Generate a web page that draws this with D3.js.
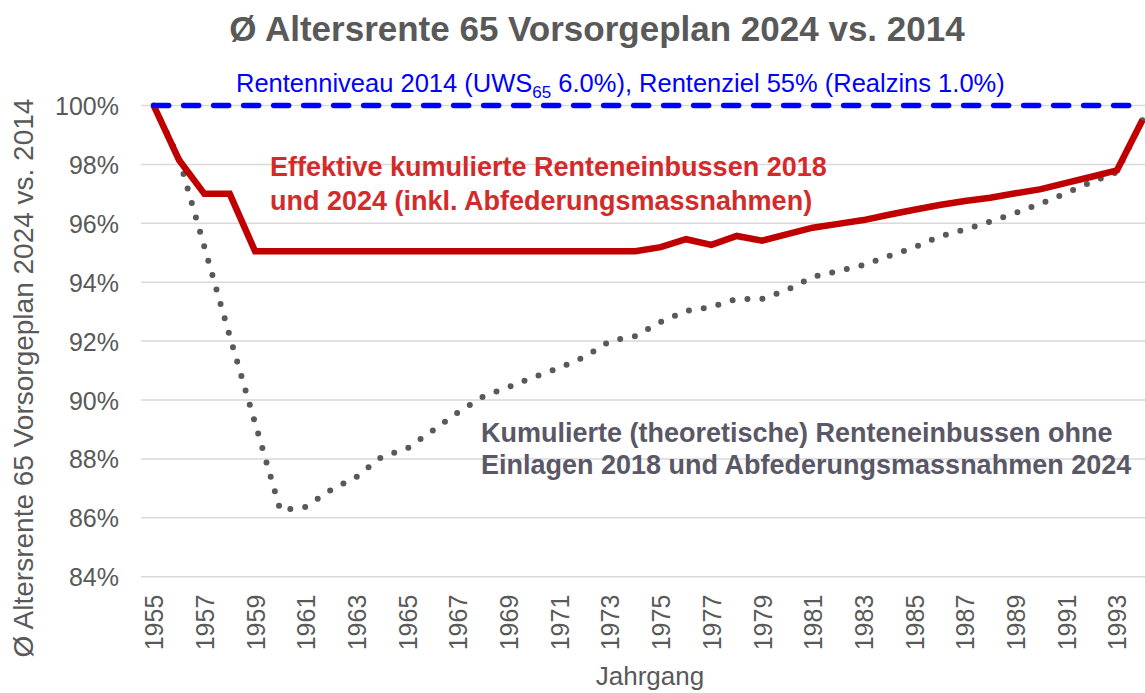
<!DOCTYPE html>
<html>
<head>
<meta charset="utf-8">
<script src="https://cdn.jsdelivr.net/npm/d3@7"></script>
<style>
  html, body { margin: 0; padding: 0; background: #fff; }
  #chart { width: 1145px; height: 693px; overflow: hidden; }
  text { font-family: "Liberation Sans", Arial, sans-serif; }
</style>
</head>
<body>
<div id="chart"></div>
<script>
const years = d3.range(1955, 1995);
const yearTicks = years.filter((y) => (y - 1955) % 2 === 0);
const percentTicks = [84, 86, 88, 90, 92, 94, 96, 98, 100];

// Rentenniveau 2014 (Referenz)
const referenzLevel = years.map(() => 100);

// Effektive kumulierte Renteneinbussen 2018 und 2024
const effektiv = [
  100, 98.15, 97.0, 97.0, 95.05, 95.05, 95.05, 95.05, 95.05, 95.05,
  95.05, 95.05, 95.05, 95.05, 95.05, 95.05, 95.05, 95.05, 95.05, 95.05,
  95.19, 95.46, 95.27, 95.57, 95.41, 95.63, 95.85, 95.98, 96.11, 96.29,
  96.46, 96.62, 96.76, 96.87, 97.02, 97.16, 97.37, 97.58, 97.8, 99.5,
];

// Kumulierte (theoretische) Renteneinbussen
const theoretisch = [
  100, 98.2, 95.2, 92.17, 89.22, 86.25, 86.37, 86.95, 87.39, 88.07,
  88.35, 88.96, 89.58, 90.12, 90.44, 90.78, 91.09, 91.46, 92.0, 92.17,
  92.65, 93.02, 93.16, 93.43, 93.43, 93.74, 94.18, 94.38, 94.58, 94.89,
  95.18, 95.55, 95.79, 96.06, 96.35, 96.67, 97.03, 97.4, 97.74, 99.5,
];

function createChart(containerId) {
  const width = 1145;
  const height = 693;
  const plot = { left: 141, right: 1155, top: 105.5, bottom: 576.7 };

  const svg = d3
    .select(`#${containerId}`)
    .append("svg")
    .attr("width", width)
    .attr("height", height);

  const x = d3
    .scalePoint()
    .domain(years)
    .range([plot.left, plot.right])
    .padding(0.5);

  const y = d3.scaleLinear().domain([84, 100]).range([plot.bottom, plot.top]);

  // Gitterlinien
  svg
    .append("g")
    .selectAll("line")
    .data(percentTicks)
    .enter()
    .append("line")
    .attr("x1", plot.left)
    .attr("x2", plot.right)
    .attr("y1", (d) => y(d))
    .attr("y2", (d) => y(d))
    .attr("stroke", "#d9d9d9")
    .attr("stroke-width", 1.5);

  // Y-Achse
  const yAxis = svg
    .append("g")
    .attr("transform", `translate(${plot.left - 22},0)`)
    .call(
      d3
        .axisLeft(y)
        .tickValues(percentTicks)
        .tickSize(0)
        .tickFormat((d) => `${d}%`)
    );
  yAxis.select(".domain").remove();
  yAxis
    .selectAll("text")
    .attr("fill", "#595959")
    .style("font-size", "25px")
    .attr("dy", "0.36em")
    .attr("x", 0);

  // X-Achse
  const xAxis = svg
    .append("g")
    .attr("transform", `translate(0,${plot.bottom})`)
    .call(d3.axisBottom(x).tickValues(yearTicks).tickSize(0));
  xAxis.select(".domain").remove();
  xAxis
    .selectAll("text")
    .attr("fill", "#595959")
    .style("font-size", "25px")
    .style("text-anchor", "end")
    .attr("transform", "rotate(-90)")
    .attr("x", -18)
    .attr("y", 0)
    .attr("dy", "0.36em");

  const line = d3
    .line()
    .x((d, i) => x(years[i]))
    .y((d) => y(d));

  // theoretische Renteneinbussen (gepunktet)
  svg
    .append("path")
    .datum(theoretisch)
    .attr("fill", "none")
    .attr("stroke", "#595959")
    .attr("stroke-width", 6)
    .attr("stroke-linecap", "round")
    .attr("stroke-dasharray", "0 15")
    .attr("d", line);

  // effektive Renteneinbussen
  svg
    .append("path")
    .datum(effektiv)
    .attr("fill", "none")
    .attr("stroke", "#c00000")
    .attr("stroke-width", 6.5)
    .attr("stroke-linejoin", "miter")
    .attr("d", line);

  // Rentenniveau 2014
  svg
    .append("path")
    .datum(referenzLevel)
    .attr("fill", "none")
    .attr("stroke", "#0000ff")
    .attr("stroke-width", 5.5)
    .attr("stroke-linecap", "round")
    .attr("stroke-dasharray", "15 15")
    .attr("d", line);

  // Titel
  svg
    .append("text")
    .attr("x", 597)
    .attr("y", 41)
    .attr("text-anchor", "middle")
    .attr("fill", "#595959")
    .style("font-size", "35px")
    .style("font-weight", "bold")
    .text("Ø Altersrente 65 Vorsorgeplan 2024 vs. 2014");

  // Blaue Beschriftung
  const blue = svg
    .append("text")
    .attr("x", 236)
    .attr("y", 92)
    .attr("fill", "#0000ff")
    .style("font-size", "25.5px");
  blue.append("tspan").text("Rentenniveau 2014 (UWS");
  blue
    .append("tspan")
    .attr("dy", 6)
    .style("font-size", "17px")
    .text("65");
  blue
    .append("tspan")
    .attr("dy", -6)
    .text(" 6.0%), Rentenziel 55% (Realzins 1.0%)");

  // Rote Beschriftung
  svg
    .append("text")
    .attr("fill", "#d42a2a")
    .style("font-size", "27px")
    .style("font-weight", "bold")
    .selectAll("tspan")
    .data([
      "Effektive kumulierte Renteneinbussen 2018",
      "und 2024 (inkl. Abfederungsmassnahmen)",
    ])
    .enter()
    .append("tspan")
    .attr("x", 270)
    .attr("y", (d, i) => 176 + i * 34)
    .text((d) => d);

  // Graue Beschriftung
  svg
    .append("text")
    .attr("fill", "#5a5766")
    .style("font-size", "27px")
    .style("font-weight", "bold")
    .selectAll("tspan")
    .data([
      "Kumulierte (theoretische) Renteneinbussen ohne",
      "Einlagen 2018 und Abfederungsmassnahmen 2024",
    ])
    .enter()
    .append("tspan")
    .attr("x", 481)
    .attr("y", (d, i) => 442 + i * 32)
    .text((d) => d);

  // Achsentitel
  svg
    .append("text")
    .attr("transform", "translate(33,378) rotate(-90)")
    .attr("text-anchor", "middle")
    .attr("fill", "#595959")
    .style("font-size", "28px")
    .text("Ø Altersrente 65 Vorsorgeplan 2024 vs. 2014");

  svg
    .append("text")
    .attr("x", 650)
    .attr("y", 685)
    .attr("text-anchor", "middle")
    .attr("fill", "#595959")
    .style("font-size", "26px")
    .text("Jahrgang");
}

createChart("chart");
</script>
</body>
</html>
